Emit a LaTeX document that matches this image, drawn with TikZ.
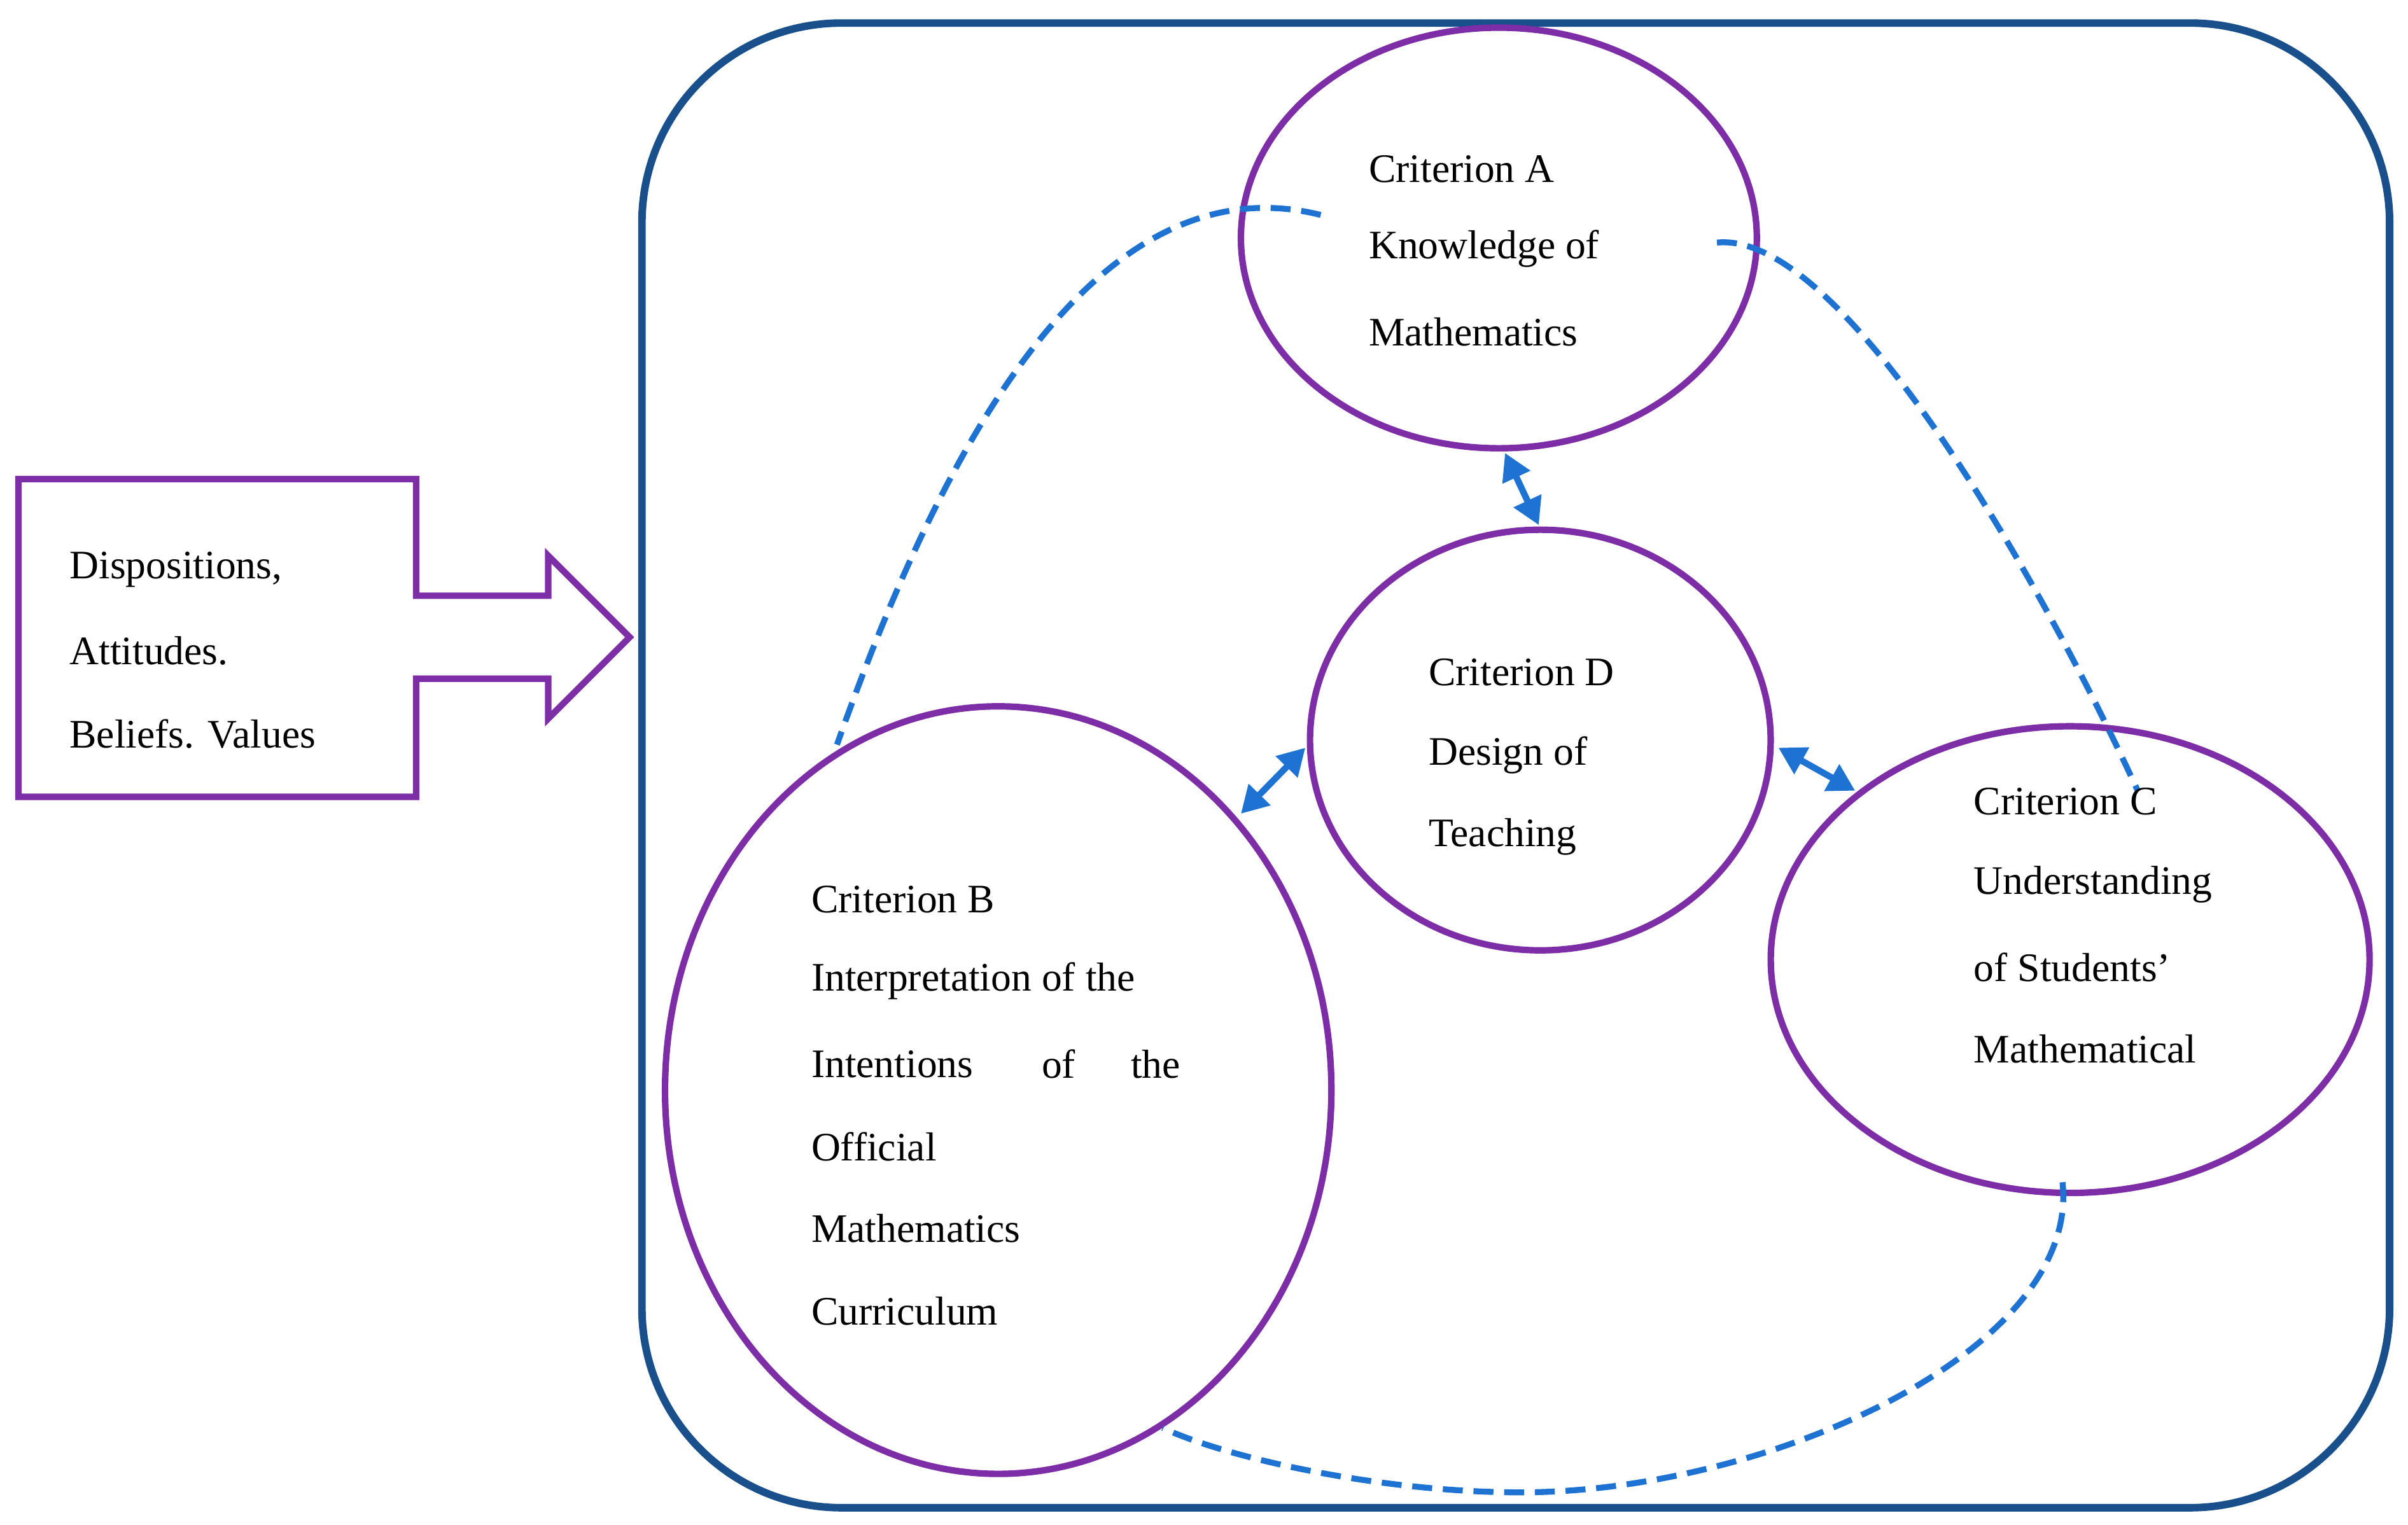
\documentclass[tikz,border=0pt]{standalone}
\usepackage{fontspec}
\setmainfont{Liberation Serif}
\usetikzlibrary{arrows.meta,shapes.geometric}
\definecolor{frame}{RGB}{25,80,140}
\definecolor{purp}{RGB}{125,45,165}
\definecolor{dblue}{RGB}{30,115,210}
\begin{document}
\begin{tikzpicture}[x=0.02cm,y=-0.02cm,
  ell/.style={draw=purp,line width=2.4pt},
  dashline/.style={draw=dblue,line width=2.2pt,dash pattern=on 0.26cm off 0.14cm},
  dbl/.style={draw=dblue,line width=2.4pt,{Triangle[length=0.35cm,width=0.38cm]}-{Triangle[length=0.35cm,width=0.38cm]}},
  txt/.style={anchor=west,font=\fontsize{15}{15}\selectfont,inner sep=0pt}]
\useasboundingbox (0,0) rectangle (1568,993);
\draw[frame,line width=2.8pt,rounded corners=2.6cm] (418,15) rectangle (1556,982);
\node[ell,ellipse,minimum width=6.72cm,minimum height=5.48cm,inner sep=0pt] (A) at (976,155) {};
\node[ell,ellipse,minimum width=6.0cm,minimum height=5.48cm,inner sep=0pt] (D) at (1003,482) {};
\node[ell,ellipse,minimum width=8.68cm,minimum height=10.0cm,inner sep=0pt] (B) at (650,710) {};
\node[ell,ellipse,minimum width=7.8cm,minimum height=6.08cm,inner sep=0pt] (C) at (1348,625) {};
\draw[purp,line width=2.4pt] (12,312) -- (271,312) -- (271,388) -- (357,388) -- (357,362) -- (410,415) -- (357,468) -- (357,442) -- (271,442) -- (271,519) -- (12,519) -- cycle;
% dashed
\coordinate (a1) at (860,140); \coordinate (b1) at (545,485);
\coordinate (a2) at (1118,158); \coordinate (c1) at (1392,515);
\coordinate (c2) at (1343,770); \coordinate (m) at (990,972); \coordinate (b2) at (757,930);
\draw[dashline] (a1) .. controls (700,100) and (600,330) .. (b1);
\draw[dashline] (a2) .. controls (1200,150) and (1330,380) .. (c1);
\draw[dashline] (c2) .. controls (1355,880) and (1150,972) .. (m) .. controls (900,972) and (800,950) .. (b2);
\coordinate (x1) at (980,295); \coordinate (x2) at (1002,342);
\coordinate (y1) at (808,530); \coordinate (y2) at (850,487);
\coordinate (z1) at (1158,487); \coordinate (z2) at (1208,515);
\draw[dbl] (x1) -- (x2);
\draw[dbl] (y1) -- (y2);
\draw[dbl] (z1) -- (z2);
% texts
\node[txt] (tA1) at (891,110) {Criterion A};
\node[txt] (tA2) at (891,162) {Knowledge of};
\node[txt] (tA3) at (891,216) {Mathematics};
\node[txt] (tD1) at (930,438) {Criterion D};
\node[txt] (tD2) at (930,492) {Design of};
\node[txt] (tD3) at (930,545) {Teaching};
\node[txt] (tB1) at (528,586) {Criterion B};
\node[txt] (tB2) at (528,639) {Interpretation of the};
\node[txt] (tB3) at (528,693) {Intentions};
\node[txt] (tB3b) at (678,693) {of};
\node[txt] (tB3c) at (736,693) {the};
\node[txt] (tB4) at (528,747) {Official};
\node[txt] (tB5) at (528,800) {Mathematics};
\node[txt] (tB6) at (528,854) {Curriculum};
\node[txt] (tC1) at (1285,522) {Criterion C};
\node[txt] (tC2) at (1285,576) {Understanding};
\node[txt] (tC3) at (1285,630) {of Students’};
\node[txt] (tC4) at (1285,683) {Mathematical};
\node[txt] (tL1) at (45,371) {Dispositions,};
\node[txt] (tL2) at (45,424) {Attitudes.};
\node[txt] (tL3) at (45,478) {Beliefs. Values};
\end{tikzpicture}
\end{document}
